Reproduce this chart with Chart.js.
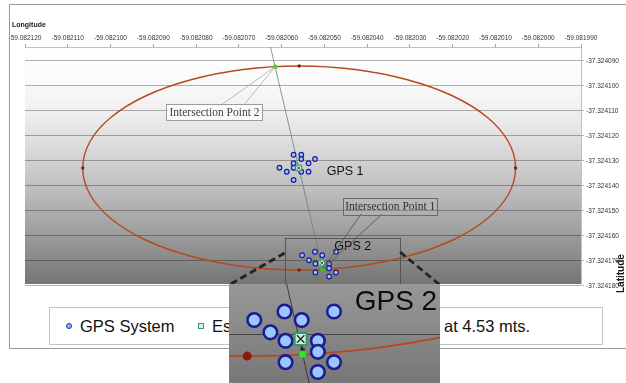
<!DOCTYPE html>
<html>
<head>
<meta charset="utf-8">
<script src="https://cdn.jsdelivr.net/npm/chart.js@4.4.1/dist/chart.umd.min.js"></script>
<style>
  html, body { margin: 0; padding: 0; background: #fff; width: 626px; height: 383px; overflow: hidden; }
  #wrap { position: relative; width: 626px; height: 383px; }
  #main { position: absolute; left: 0; top: 0; }
  #zoom { position: absolute; left: 229px; top: 284px; z-index: 3; }
  #legend { position: absolute; left: 49px; top: 307px; width: 552px; height: 36px; border: 1px solid #c4c4c4; background: #fff; z-index: 2; }
  .lg { position: absolute; font-family: "Liberation Sans", Arial, sans-serif; font-size: 16.5px; line-height: 16.5px; color: #111; white-space: nowrap; z-index: 2; }
  .mk { position: absolute; z-index: 2; box-sizing: border-box; }
</style>
</head>
<body>
<div id="wrap">
  <canvas id="main" width="626" height="383"></canvas>
  <div id="legend"></div>
  <div class="mk" style="left:66px;top:323px;width:6px;height:6px;border-radius:50%;border:1.2px solid #2230a8;background:#8fb4ff;"></div>
  <span class="lg" style="left:80px;top:318px;">GPS System</span>
  <div class="mk" style="left:198px;top:323px;width:6px;height:6px;border:1.2px solid #2f9a6c;background:#d4f4e2;"></div>
  <span class="lg" style="left:212px;top:318px;">Estimated Position</span>
  <span class="lg" style="left:372px;top:318px;">Radius</span>
  <span class="lg" style="left:444px;top:318px;">at 4.53 mts.</span>
  <canvas id="zoom" width="211" height="99"></canvas>
</div>
<script>
// ---- axis ticks ----
const lonTicks = [-59.082120, -59.082110, -59.082100, -59.082090, -59.082080, -59.082070, -59.082060,
                  -59.082050, -59.082040, -59.082030, -59.082020, -59.082010, -59.082000, -59.081990];
const latTicks = [-37.324090, -37.324100, -37.324110, -37.324120, -37.324130,
                  -37.324140, -37.324150, -37.324160, -37.324170, -37.324180];

// ---- GPS readings ----
const gps1Lon = [-59.0820572, -59.0820554, -59.0820554, -59.0820522, -59.0820572, -59.0820537,
                 -59.0820605, -59.0820572, -59.0820588, -59.0820554, -59.0820537, -59.0820572];
const gps1Lat = [-37.3241276, -37.3241276, -37.3241293, -37.3241293, -37.3241310, -37.3241310,
                 -37.3241328, -37.3241328, -37.3241344, -37.3241344, -37.3241344, -37.3241377];
const gps2Lon = [-59.0820522, -59.0820473, -59.0820552, -59.0820505, -59.0820536, -59.0820521,
                 -59.0820489, -59.0820489, -59.0820521, -59.0820473, -59.0820489];
const gps2Lat = [-37.3241664, -37.3241664, -37.3241678, -37.3241678, -37.3241698, -37.3241712,
                 -37.3241712, -37.3241730, -37.3241747, -37.3241747, -37.3241763];

// ---- estimated positions (GPS 1, GPS 2) ----
const estLon = [-59.0820560, -59.0820506];
const estLat = [-37.3241329, -37.3241709];

// ---- intersection points (Point 1, Point 2) ----
const crossLon = [-59.0820504, -59.0820615];
const crossLat = [-37.3241734, -37.3240924];

// ---- 4.53 m circle around GPS 1 (first and last points only bend the ends) ----
const ringLon = [-59.0820070, -59.0820053, -59.0820070, -59.0820120, -59.0820201, -59.0820306, -59.0820428,
                 -59.0820559, -59.0820690, -59.0820812, -59.0820917, -59.0820998, -59.0821048, -59.0821065,
                 -59.0821048, -59.0820998, -59.0820917, -59.0820812, -59.0820690, -59.0820559, -59.0820428,
                 -59.0820306, -59.0820201, -59.0820120, -59.0820070, -59.0820053, -59.0820070];
const ringLat = [-37.3241435, -37.3241329, -37.3241223, -37.3241125, -37.3241040, -37.3240976, -37.3240935,
                 -37.3240921, -37.3240935, -37.3240976, -37.3241040, -37.3241125, -37.3241223, -37.3241329,
                 -37.3241435, -37.3241533, -37.3241618, -37.3241682, -37.3241723, -37.3241737, -37.3241723,
                 -37.3241682, -37.3241618, -37.3241533, -37.3241435, -37.3241329, -37.3241223];
const ringEndLon = [-59.0821065, -59.0820053, -59.0820559, -59.0820559];
const ringEndLat = [-37.3241329, -37.3241329, -37.3240921, -37.3241737];

// ---- line through both intersection points ----
const trackLon = [-59.0820626, -59.0820496];
const trackLat = [-37.3240845, -37.3241793];

// ---- offset from GPS 2 estimate towards Intersection Point 1 ----
const offsetLon = [-59.0820506, -59.0820504];
const offsetLat = [-37.3241709, -37.3241727];

// ---- detail window ----
const detailLon = [-59.0820593, -59.0820323];
const detailLat = [-37.3241609, -37.3241793];

const LON_MIN = -59.082120, LON_MAX = -59.081990;
const LAT_MIN = -37.3241793, LAT_MAX = -37.3240845;
const INSET = { left: 229, top: 284, width: 211, height: 99 };
const INSET_LON = [-59.0820577, -59.0820368];
const INSET_LAT = [-37.3241781, -37.3241619];

const SANS = '"Liberation Sans", Arial, sans-serif';
const SERIF = '"Liberation Serif", "Times New Roman", serif';

const pts = (lons, lats) => lons.map((v, i) => ({ x: v, y: lats[i] }));
const lastRing = ringLon.length - 1;

function buildDatasets(s) {
  return [
    { label: 'Intersection', data: pts(crossLon, crossLat), pointRadius: s.cross,
      pointBackgroundColor: '#2ee62e', pointBorderColor: '#22c422', pointBorderWidth: 0.6 },
    { label: 'Estimate mark', data: pts(estLon, estLat), pointStyle: 'crossRot', pointRadius: s.est * 0.62,
      pointBorderColor: '#1d1d1d', pointBorderWidth: s.markW },
    { label: 'Estimated Position', data: pts(estLon, estLat), pointStyle: 'rect', pointRadius: s.est,
      pointBackgroundColor: '#cff2df', pointBorderColor: '#2e9a6b', pointBorderWidth: s.estW },
    { label: 'Offset', data: pts(offsetLon, offsetLat), showLine: true, tension: 0,
      borderColor: '#1d1d1d', borderWidth: s.offW, pointStyle: 'triangle', pointRotation: 180,
      pointRadius: [0, s.head], pointBackgroundColor: '#1d1d1d', pointBorderWidth: 0 },
    { label: 'GPS 1', data: pts(gps1Lon, gps1Lat), pointRadius: s.gps,
      pointBackgroundColor: '#9cc6ff', pointBorderColor: '#1c1c94', pointBorderWidth: s.gpsW },
    { label: 'GPS 2', data: pts(gps2Lon, gps2Lat), pointRadius: s.gps,
      pointBackgroundColor: '#9cc6ff', pointBorderColor: '#1c1c94', pointBorderWidth: s.gpsW },
    { label: 'Circle ends', data: pts(ringEndLon, ringEndLat), pointRadius: s.end,
      pointBackgroundColor: '#8c1a0c', pointBorderWidth: 0 },
    { label: 'Radius 4.53 m', data: pts(ringLon, ringLat), showLine: true, tension: 0.34,
      borderColor: '#b8481f', borderWidth: s.ringW, pointRadius: 0,
      segment: {
        borderColor: c => (c.p0DataIndex === 0 || c.p1DataIndex === lastRing) ? 'rgba(0,0,0,0)' : undefined
      } },
    { label: 'Track', data: pts(trackLon, trackLat), showLine: true, tension: 0,
      borderColor: s.trackColor, borderWidth: s.trackW, pointRadius: 0 }
  ];
}

// plot background: white at the top fading to grey at the bottom (shade tied to latitude)
const shadeStops = [[0, 255], [0.15, 250], [0.3, 236], [0.45, 214], [0.6, 190], [0.75, 164], [0.9, 136], [1, 116]];
function shadeAt(lat) {
  const t = Math.min(1, Math.max(0, (LAT_MAX - lat) / (LAT_MAX - LAT_MIN)));
  for (let i = 1; i < shadeStops.length; i++) {
    if (t <= shadeStops[i][0]) {
      const [t0, c0] = shadeStops[i - 1], [t1, c1] = shadeStops[i];
      return Math.round(c0 + (c1 - c0) * (t - t0) / (t1 - t0));
    }
  }
  return shadeStops[shadeStops.length - 1][1];
}
const backdrop = {
  id: 'backdrop',
  beforeDraw(chart) {
    const { ctx, chartArea: a, scales: { y } } = chart;
    const g = ctx.createLinearGradient(0, a.top, 0, a.bottom);
    const n = 24;
    for (let i = 0; i <= n; i++) {
      const py = a.top + (a.bottom - a.top) * i / n;
      const c = shadeAt(y.getValueForPixel(py));
      g.addColorStop(i / n, `rgb(${c},${c},${c})`);
    }
    ctx.save();
    ctx.fillStyle = g;
    ctx.fillRect(a.left, a.top, a.right - a.left, a.bottom - a.top);
    ctx.restore();
  }
};

function textBox(ctx, text, x, y, w, h, border, fill, color) {
  ctx.fillStyle = fill;
  ctx.fillRect(x, y, w, h);
  ctx.strokeStyle = border;
  ctx.lineWidth = 1;
  ctx.strokeRect(Math.round(x) + 0.5, Math.round(y) + 0.5, w, h);
  ctx.fillStyle = color;
  ctx.font = '11.5px ' + SERIF;
  ctx.textAlign = 'center';
  ctx.textBaseline = 'middle';
  ctx.fillText(text, x + w / 2, y + h / 2 + 0.5);
}

const mainDecor = {
  id: 'mainDecor',
  afterDraw(chart) {
    const { ctx, scales: { x, y } } = chart;
    const P = (lon, lat) => ({ x: x.getPixelForValue(lon), y: y.getPixelForValue(lat) });
    ctx.save();

    // outer frame
    ctx.strokeStyle = '#9a9a9a';
    ctx.lineWidth = 1;
    ctx.beginPath();
    ctx.moveTo(640, 4.5); ctx.lineTo(9.5, 4.5); ctx.lineTo(9.5, 348.5); ctx.lineTo(640, 348.5);
    ctx.stroke();

    // axis titles
    ctx.fillStyle = '#1a1a1a';
    ctx.font = 'bold 7px ' + SANS;
    ctx.textAlign = 'left';
    ctx.textBaseline = 'middle';
    ctx.fillText('Longitude', 12, 25);
    ctx.save();
    ctx.translate(621, 293);
    ctx.rotate(-Math.PI / 2);
    ctx.font = 'bold 10px ' + SANS;
    ctx.fillText('Latitude', 0, 0);
    ctx.restore();

    // group names
    const e1 = P(estLon[0], estLat[0]), e2 = P(estLon[1], estLat[1]);
    ctx.fillStyle = '#111';
    ctx.font = '12.5px ' + SANS;
    ctx.textBaseline = 'middle';
    ctx.fillText('GPS 1', e1.x + 28, e1.y + 3.5);
    ctx.fillText('GPS 2', e2.x + 12.5, e2.y - 16.5);

    // callouts for the intersection points
    const ip1 = P(crossLon[0], crossLat[0]), ip2 = P(crossLon[1], crossLat[1]);
    ctx.strokeStyle = '#a8a8a8';
    ctx.lineWidth = 0.8;
    ctx.beginPath();
    ctx.moveTo(ip2.x - 52.7, ip2.y + 37.3); ctx.lineTo(ip2.x, ip2.y);
    ctx.moveTo(ip2.x - 30.7, ip2.y + 37.3); ctx.lineTo(ip2.x, ip2.y);
    ctx.stroke();
    textBox(ctx, 'Intersection Point 2', ip2.x - 108.7, ip2.y + 37.3, 96, 16, '#9c9c9c', 'rgba(255,255,255,0.75)', '#444');

    ctx.strokeStyle = '#5e5e5e';
    ctx.beginPath();
    ctx.moveTo(ip1.x + 38.6, ip1.y - 55.5); ctx.lineTo(ip1.x, ip1.y);
    ctx.moveTo(ip1.x + 59.6, ip1.y - 55.5); ctx.lineTo(ip1.x, ip1.y);
    ctx.stroke();
    textBox(ctx, 'Intersection Point 1', ip1.x + 20.6, ip1.y - 71.5, 94, 17, '#6a6a6a', 'rgba(190,190,190,0.25)', '#333');

    // detail window and its connectors to the enlarged view
    const d0 = P(detailLon[0], detailLat[0]), d1 = P(detailLon[1], detailLat[1]);
    ctx.strokeStyle = '#4a4a4a';
    ctx.lineWidth = 0.8;
    ctx.strokeRect(Math.round(d0.x) + 0.5, Math.round(d0.y) + 0.5, Math.round(d1.x - d0.x), Math.round(d1.y - d0.y));
    ctx.strokeStyle = '#222';
    ctx.lineWidth = 2.8;
    ctx.setLineDash([7, 4]);
    ctx.beginPath();
    ctx.moveTo(d0.x, d0.y + 15); ctx.lineTo(INSET.left, INSET.top + 1);
    ctx.moveTo(d1.x, d0.y + 14); ctx.lineTo(INSET.left + INSET.width, INSET.top + 1);
    ctx.stroke();
    ctx.restore();
  }
};

const insetDecor = {
  id: 'insetDecor',
  beforeDatasetsDraw(chart) {
    const { ctx, chartArea: a, scales: { y } } = chart;
    ctx.save();
    ctx.strokeStyle = 'rgba(0,0,0,0.5)';
    ctx.lineWidth = 1;
    latTicks.forEach(v => {
      const py = y.getPixelForValue(v);
      if (py >= a.top && py <= a.bottom) {
        ctx.beginPath();
        ctx.moveTo(a.left, Math.round(py) + 0.5);
        ctx.lineTo(a.right, Math.round(py) + 0.5);
        ctx.stroke();
      }
    });
    ctx.restore();
  },
  afterDraw(chart) {
    const { ctx, scales: { x, y } } = chart;
    const ex = x.getPixelForValue(estLon[1]), ey = y.getPixelForValue(estLat[1]);
    ctx.save();
    ctx.fillStyle = '#0d0d0d';
    ctx.font = '28px ' + SANS;
    ctx.textAlign = 'left';
    ctx.textBaseline = 'alphabetic';
    ctx.fillText('GPS 2', ex + 54, ey - 29);
    ctx.restore();
  }
};

const fmt = v => Number(v).toFixed(6);

new Chart(document.getElementById('main'), {
  type: 'scatter',
  data: { datasets: buildDatasets({
    gps: 2.3, gpsW: 1.2, est: 4.2, estW: 1, markW: 0.8, cross: 2, end: 1.7,
    ringW: 1.4, trackW: 0.8, trackColor: '#7a7a7a', offW: 0.8, head: 1.2 }) },
  options: {
    responsive: false,
    animation: false,
    events: [],
    layout: { autoPadding: false, padding: { left: 25, right: 0, top: 0, bottom: 99 } },
    plugins: { legend: { display: false }, tooltip: { enabled: false } },
    scales: {
      x: {
        type: 'linear', position: 'top', min: LON_MIN, max: LON_MAX,
        afterBuildTicks: s => { s.ticks = lonTicks.map(v => ({ value: v })); },
        afterFit: s => { s.height = 47; },
        ticks: { font: { family: SANS, size: 6.5 }, color: '#333', padding: 2, maxRotation: 0, autoSkip: false, callback: fmt },
        grid: { drawOnChartArea: false, drawTicks: true, tickLength: 3, color: '#a0a0a0' },
        border: { color: '#c0c0c0' }
      },
      y: {
        type: 'linear', position: 'right', min: LAT_MIN, max: LAT_MAX,
        afterBuildTicks: s => { s.ticks = latTicks.map(v => ({ value: v })); },
        afterFit: s => { s.width = 45; },
        ticks: { font: { family: SANS, size: 6.5 }, color: '#333', padding: 2, autoSkip: false, callback: fmt },
        grid: { color: 'rgba(0,0,0,0.3)', drawTicks: true, tickLength: 3 },
        border: { color: '#c0c0c0' }
      }
    }
  },
  plugins: [backdrop, mainDecor]
});

new Chart(document.getElementById('zoom'), {
  type: 'scatter',
  data: { datasets: buildDatasets({
    gps: 6.8, gpsW: 2.6, est: 8.5, estW: 2, markW: 1.2, cross: 3.6, end: 4.5,
    ringW: 1.8, trackW: 1, trackColor: '#3c3c3c', offW: 1.2, head: 3.2 }) },
  options: {
    responsive: false,
    animation: false,
    events: [],
    layout: { autoPadding: false, padding: 0 },
    plugins: { legend: { display: false }, tooltip: { enabled: false } },
    scales: {
      x: { type: 'linear', display: false, min: INSET_LON[0], max: INSET_LON[1] },
      y: { type: 'linear', display: false, min: INSET_LAT[0], max: INSET_LAT[1] }
    }
  },
  plugins: [backdrop, insetDecor]
});
</script>
</body>
</html>
